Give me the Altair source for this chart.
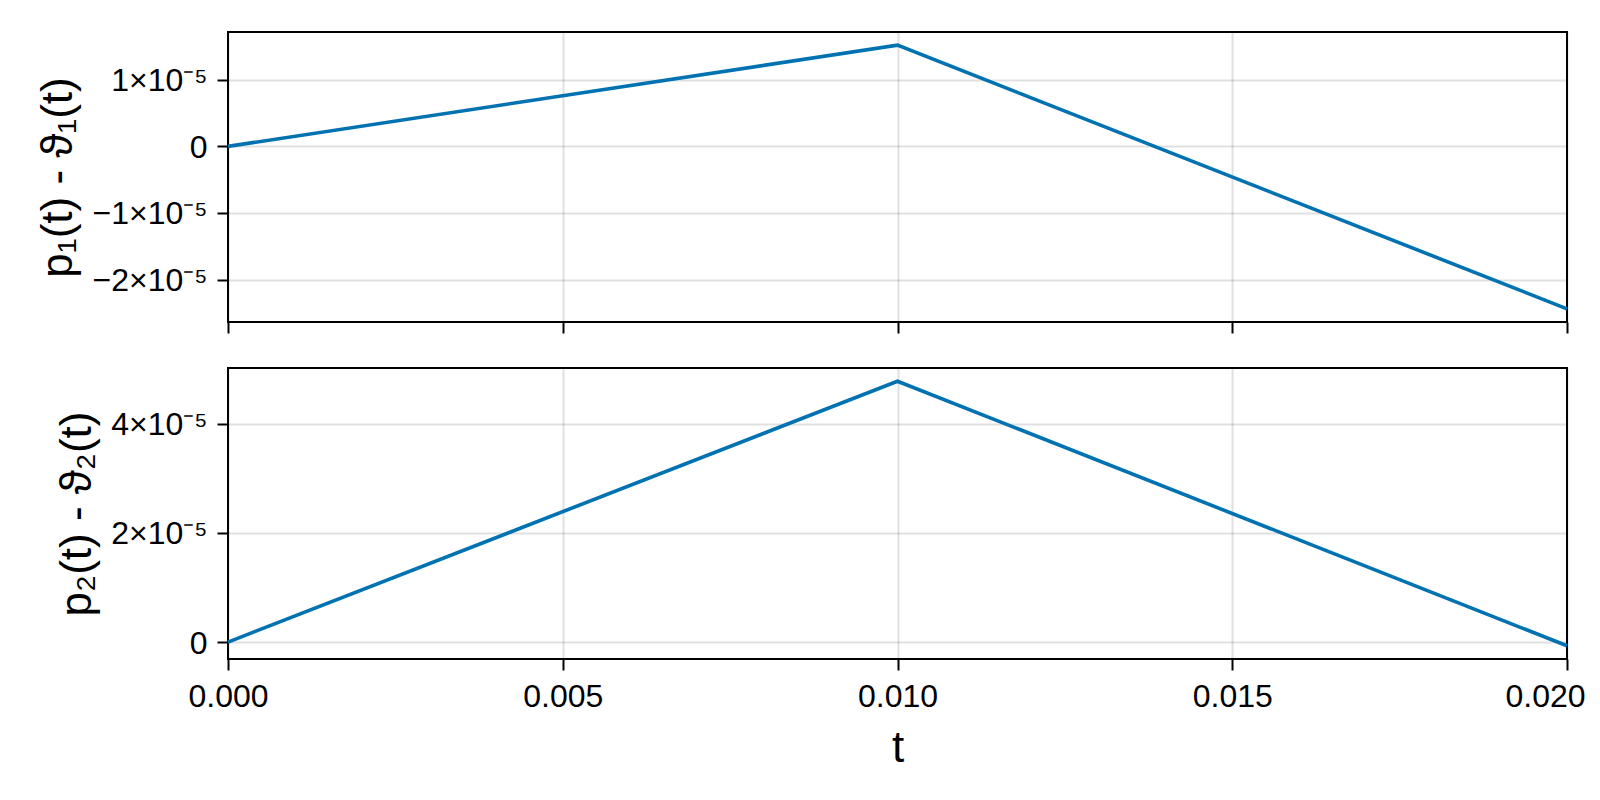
import altair as alt
import pandas as pd

# ---- data ----
t_vals = [0.0, 0.01, 0.02]
p1_diff = [0.0, 1.52e-5, -2.44e-5]
p2_diff = [0.0, 4.778e-5, -0.068e-5]

x_ticks = [0.0, 0.005, 0.01, 0.015, 0.02]
y1_ticks = [-2e-5, -1e-5, 0.0, 1e-5]
y2_ticks = [0.0, 2e-5, 4e-5]

title1 = "p₁(t) - ϑ₁(t)"
title2 = "p₂(t) - ϑ₂(t)"
x_title = "t"

LINE_COLOR = "#0072B2"
FONT = "Liberation Sans"


def padded(vals, frac=0.05):
    lo, hi = min(vals), max(vals)
    d = (hi - lo) * frac
    return [lo - d, hi + d]


sci_expr = (
    "datum.value == 0 ? '0' : "
    "replace(format(round(datum.value * 1e5), 'd'), '-', '\u2212') + '\u00d710\u207b\u2075'"
)

x_domain = [min(t_vals), max(t_vals)]

df1 = pd.DataFrame({"t": t_vals, "v": p1_diff})
df2 = pd.DataFrame({"t": t_vals, "v": p2_diff})

top = alt.Chart(df1).mark_line(color=LINE_COLOR, strokeWidth=3.6).encode(
    x=alt.X(
        "t:Q",
        scale=alt.Scale(domain=x_domain, nice=False, zero=False),
        axis=alt.Axis(values=x_ticks, labels=False, title=None, ticks=True, grid=True),
    ),
    y=alt.Y(
        "v:Q",
        scale=alt.Scale(domain=padded(p1_diff), nice=False, zero=False),
        axis=alt.Axis(
            values=y1_ticks,
            labelExpr=sci_expr,
            title=title1,
            titleX=-156.6,
            titleBaseline="alphabetic",
            titleAngle=270,
            labelPadding=10,
            labelOffset=1,
        ),
    ),
).properties(width=1339, height=290)

bottom = alt.Chart(df2).mark_line(color=LINE_COLOR, strokeWidth=3.6).encode(
    x=alt.X(
        "t:Q",
        scale=alt.Scale(domain=x_domain, nice=False, zero=False),
        axis=alt.Axis(
            values=x_ticks,
            format=".3f",
            title=x_title,
            titleY=102.4,
            titleBaseline="alphabetic",
            labelPadding=11,
            labelFlush=False,
            labelOffset={"condition": {"test": "datum.value > 0.0195", "value": -22}, "value": 0},
        ),
    ),
    y=alt.Y(
        "v:Q",
        scale=alt.Scale(domain=padded(p2_diff), nice=False, zero=False),
        axis=alt.Axis(
            values=y2_ticks,
            labelExpr=sci_expr,
            title=title2,
            titleX=-137.4,
            titleBaseline="alphabetic",
            titleAngle=270,
            labelPadding=10,
            labelOffset=1,
        ),
    ),
).properties(width=1339, height=291)

chart = (
    alt.vconcat(top, bottom, spacing=46, bounds="flush")
    .properties(
        padding={"left": 27, "top": 23, "right": 0, "bottom": 0},
        background="white",
    )
    .configure_view(stroke="black", strokeWidth=2)
    .configure_axis(
        labelFont=FONT,
        titleFont=FONT,
        labelFontSize=32,
        titleFontSize=44,
        titleFontWeight="normal",
        labelColor="black",
        titleColor="black",
        tickColor="black",
        tickSize=11,
        tickWidth=2,
        domain=False,
        gridColor="black",
        gridOpacity=0.12,
        gridWidth=2,
        labelFlush=False,
    )
)

chart.save("out.html", embed_options={"renderer": "svg", "actions": False})
